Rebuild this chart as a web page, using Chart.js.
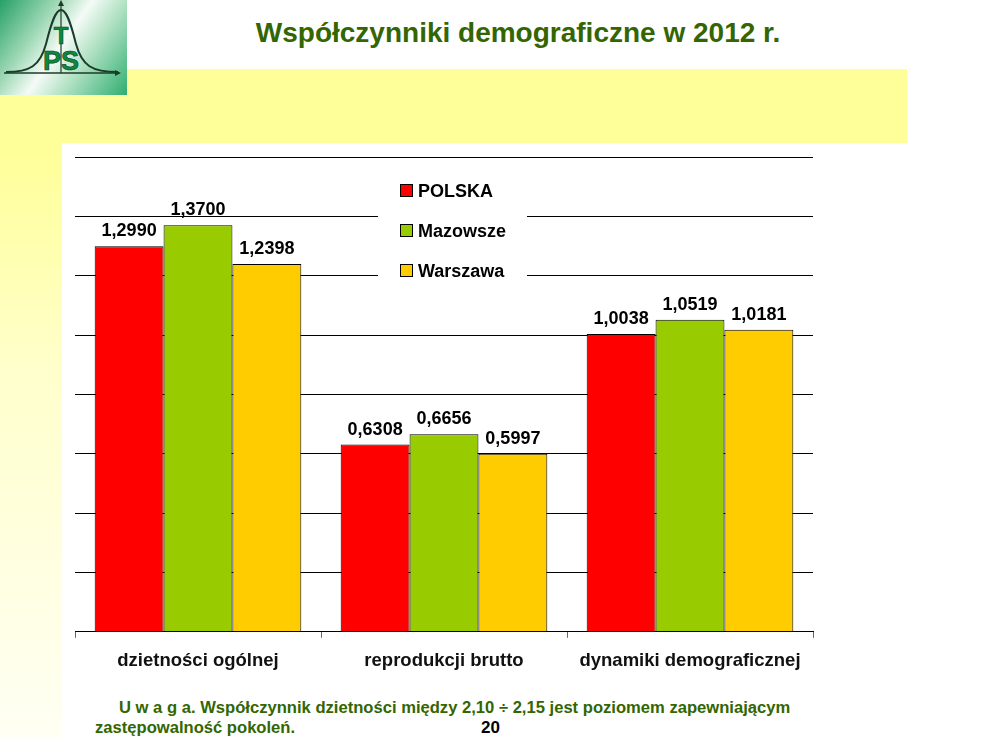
<!DOCTYPE html>
<html>
<head>
<meta charset="utf-8">
<script src="https://cdn.jsdelivr.net/npm/chart.js@4"></script>
<style>
  body { margin: 0; width: 985px; height: 738px; background: #fff; position: relative; overflow: hidden;
         font-family: "Liberation Sans", Arial, sans-serif; }
  .band { position: absolute; left: 0; top: 69px; width: 907px; height: 74px; background: #ffff99; }
  .strip { position: absolute; left: 0; top: 69px; width: 62px; height: 669px;
           background: linear-gradient(to bottom, #ffff99 0%, #ffff99 12%, #ffffcc 45%, #fffff4 100%); }
  .logo { position: absolute; left: 0; top: 0; width: 127px; height: 95px;
          background: linear-gradient(125deg, #27a066 0%, #9fd9b6 30%, #f4fbf6 48%, #b5e3c6 65%, #2fae70 100%); }
  .title { position: absolute; left: 0; top: 17px; width: 1036px; text-align: center;
           font-weight: bold; font-size: 28px; color: #336600; }
  .wrap { position: absolute; left: 62px; top: 143px; width: 845px; height: 547px; background: #fff; }
  .note { position: absolute; font-weight: bold; font-size: 16.6px; color: #336600; white-space: nowrap; }
  .page { position: absolute; left: 481px; top: 718px; font-weight: bold; font-size: 17px; color: #000; }
</style>
</head>
<body>
<div class="band"></div>
<div class="strip"></div>
<div class="logo">
  <svg width="127" height="95" viewBox="0 0 127 95">
    <path d="M6 72 C 30 72, 40 66, 46 44 C 52 20, 56 10, 61 10 C 66 10, 70 20, 76 44 C 82 66, 92 72, 118 72"
          fill="none" stroke="#1d3b2a" stroke-width="2"/>
    <line x1="61" y1="2" x2="61" y2="73" stroke="#1d3b2a" stroke-width="1.2"/>
    <polygon points="61,0 58,6 64,6" fill="#1d3b2a"/>
    <line x1="4" y1="73" x2="118" y2="73" stroke="#1d3b2a" stroke-width="1.5"/>
    <polygon points="121,73 115,70 115,76" fill="#1d3b2a"/>
    <text x="61" y="44" text-anchor="middle" font-family="Liberation Sans, Arial" font-weight="bold"
          font-size="24" fill="#0b8a3c" stroke="#0a3a1e" stroke-width="0.6">T</text>
    <text x="61" y="70" text-anchor="middle" font-family="Liberation Sans, Arial" font-weight="bold"
          font-size="27" fill="#0b8a3c" stroke="#0a3a1e" stroke-width="0.6">PS</text>
  </svg>
</div>
<div class="title">Współczynniki demograficzne w 2012 r.</div>
<div class="wrap"><canvas id="chart"></canvas></div>
<div class="note" style="left:119px; top:698px;">U w a g a. Współczynnik dzietności między 2,10 ÷ 2,15 jest poziomem zapewniającym</div>
<div class="note" style="left:95px; top:718px;">zastępowalność pokoleń.</div>
<div class="page">20</div>

<script>
// categories and series
const categories = ['dzietności ogólnej', 'reprodukcji brutto', 'dynamiki demograficznej'];
const seriesNames = ['POLSKA', 'Mazowsze', 'Warszawa'];
const polska = [1.2990, 0.6308, 1.0038];
const mazowsze = [1.3700, 0.6656, 1.0519];
const warszawa = [1.2398, 0.5997, 1.0181];
const seriesColors = ['#ff0000', '#99cc00', '#ffcc00'];

const fmt = v => v.toFixed(4).replace('.', ',');

// value labels above each bar
const valueLabels = {
  id: 'valueLabels',
  afterDatasetsDraw(chart) {
    const ctx = chart.ctx;
    ctx.save();
    ctx.font = 'bold 18px "Liberation Sans", Arial, sans-serif';
    ctx.fillStyle = '#000';
    ctx.textAlign = 'center';
    ctx.textBaseline = 'bottom';
    chart.data.datasets.forEach((ds, i) => {
      chart.getDatasetMeta(i).data.forEach((bar, j) => {
        ctx.fillText(fmt(ds.data[j]), bar.x, bar.y - 6);
      });
    });
    ctx.restore();
  }
};

// legend box sitting inside the plot, covering the gridlines
const insideLegend = {
  id: 'insideLegend',
  afterDraw(chart) {
    const ctx = chart.ctx;
    ctx.save();
    ctx.fillStyle = '#fff';
    ctx.fillRect(316, 29, 149, 116);
    ctx.font = 'bold 18px "Liberation Sans", Arial, sans-serif';
    ctx.textBaseline = 'middle';
    chart.data.datasets.forEach((ds, i) => {
      const y = 48 + i * 40;
      ctx.fillStyle = ds.backgroundColor;
      ctx.fillRect(338.5, y - 6.5, 12, 12);
      ctx.strokeStyle = '#000';
      ctx.lineWidth = 1;
      ctx.strokeRect(338.5, y - 6.5, 12, 12);
      ctx.fillStyle = '#000';
      ctx.fillText(ds.label, 356, y + 1);
    });
    ctx.restore();
  }
};

const ctx = document.getElementById('chart').getContext('2d');
new Chart(ctx, {
  type: 'bar',
  data: {
    labels: categories,
    datasets: [polska, mazowsze, warszawa].map((vals, i) => ({
      label: seriesNames[i],
      data: vals,
      backgroundColor: seriesColors[i],
      borderColor: '#000',
      borderWidth: 1,
      borderSkipped: 'bottom',
      categoryPercentage: 0.84,
      barPercentage: 1.0
    }))
  },
  options: {
    responsive: true,
    maintainAspectRatio: false,
    animation: false,
    layout: { padding: { left: 13, right: 94, top: 14, bottom: 6 } },
    scales: {
      x: {
        grid: { drawOnChartArea: false, tickLength: 6, color: '#666' },
        border: { color: '#000', width: 1 },
        ticks: {
          color: '#111',
          padding: 12,
          font: { family: '"Liberation Sans", Arial, sans-serif', size: 18.5, weight: 'bold' }
        }
      },
      y: {
        min: 0,
        max: 1.6,
        ticks: { display: false, stepSize: 0.2 },
        grid: { color: '#000', drawTicks: false },
        border: { display: false }
      }
    },
    plugins: {
      legend: { display: false },
      tooltip: { enabled: false }
    }
  },
  plugins: [valueLabels, insideLegend]
});
</script>
</body>
</html>
